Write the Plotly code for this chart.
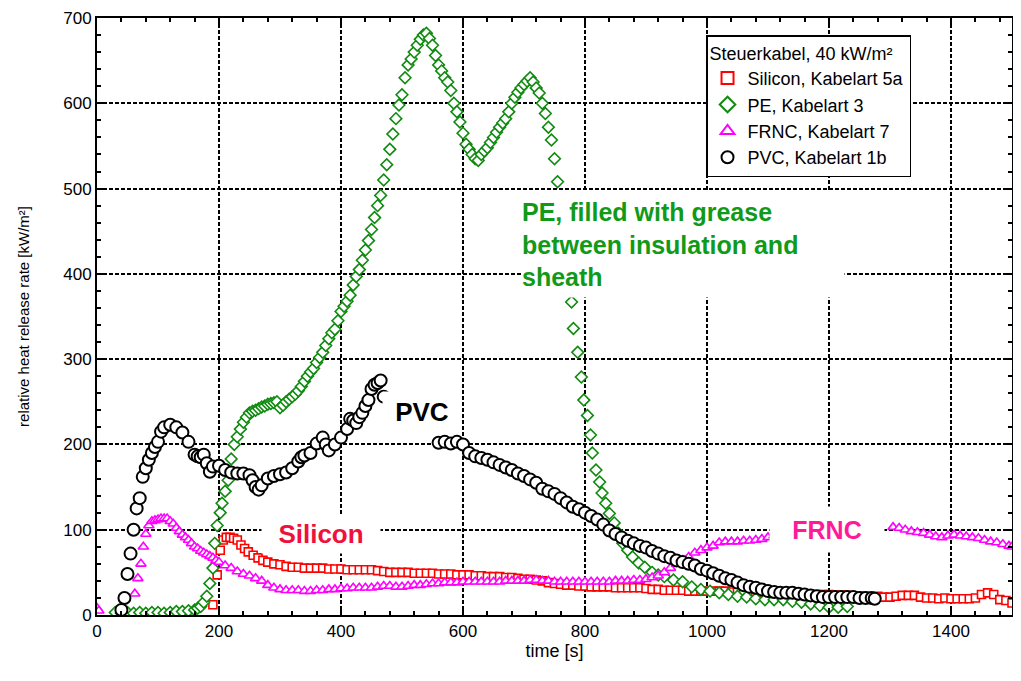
import plotly.graph_objects as go

# ---------------- data ----------------
sil_t = [190, 197, 202, 207, 212, 218, 224, 230, 236, 242, 248, 256, 264, 272, 280, 290, 300, 310, 320, 330,
         340, 350, 360, 370, 380, 390, 400, 410, 420, 430, 440, 450, 460, 470, 480, 490, 500, 510, 520, 530,
         540, 550, 560, 570, 580, 590, 600, 610, 620, 630, 640, 650, 660, 670, 680, 690, 700, 710, 720, 730,
         740, 750, 760, 770, 780, 790, 800, 810, 820, 830, 840, 850, 860, 870, 880, 890, 900, 910, 920, 930,
         940, 950, 960, 970, 980, 990, 1000, 1010, 1020, 1030, 1040, 1050, 1060, 1070, 1080, 1090, 1100, 1110,
         1120, 1130, 1140, 1150, 1160, 1170, 1180, 1190, 1200, 1210, 1220, 1230, 1240, 1250, 1260, 1270, 1280,
         1290, 1300, 1310, 1320, 1330, 1340, 1350, 1360, 1370, 1380, 1390, 1400, 1410, 1420, 1430, 1440, 1450,
         1460, 1470, 1480, 1490, 1500]
sil_v = [12, 47, 76, 88, 91, 91, 90, 88, 82, 78, 74, 70, 67, 64, 62, 60, 59, 57, 56, 56,
         55, 55, 55, 55, 54, 54, 54, 53, 53, 53, 53, 53, 52, 51, 50, 50, 50, 50, 49, 49,
         49, 49, 48, 48, 48, 47, 47, 47, 46, 46, 45, 45, 45, 44, 44, 43, 42, 42, 41, 40,
         38, 37, 36, 35, 35, 34, 34, 33, 33, 33, 33, 32, 32, 32, 32, 32, 31, 30, 30, 29,
         29, 29, 29, 28, 28, 28, 28, 28, 28, 28, 27, 27, 27, 27, 26, 26, 26, 26,
         25, 25, 25, 25, 25, 24, 24, 24, 24, 23, 23, 23, 22, 22, 22, 21, 22,
         21, 21, 22, 23, 23, 23, 21, 20, 20, 19, 20, 19, 19, 19, 19, 20, 24,
         26, 24, 18, 17, 14]

pe_t = [30, 40, 50, 60, 70, 80, 90, 100, 110, 120, 130, 140, 150, 160, 165, 170, 175, 180, 185, 190,
        193, 197, 202, 205, 210, 215, 220, 225, 230, 235, 240, 245, 250, 255, 260, 265, 270, 275, 280, 285,
        290, 295, 300, 305, 310, 315, 320, 325, 330, 335, 340, 345, 350, 355, 360, 365, 370, 375, 380, 385,
        390, 395, 400, 405, 410, 415, 420, 425, 430, 435, 440, 445, 450, 455, 460, 465, 470, 475, 480, 485,
        490, 495, 500, 505, 510, 515, 520, 525, 530, 535, 540, 545, 550, 555, 560, 565, 570, 575, 580, 585,
        590, 595, 600, 605, 610, 615, 620, 625, 630, 635, 640, 645, 650, 655, 660, 665, 670, 675, 680, 685,
        690, 695, 700, 705, 710, 715, 720, 725, 730, 735, 740, 745, 750, 755,
        778, 781, 788, 794, 798, 804, 809, 812, 818, 824, 828, 834, 840, 848, 855, 862, 870, 878, 888, 898,
        910, 920, 930, 945, 960, 975, 990, 1005, 1020, 1035, 1050, 1065, 1080, 1095, 1110, 1125, 1140, 1155,
        1170, 1185, 1200, 1215, 1230]
pe_v = [3, 2, 3, 2, 3, 2, 3, 3, 2, 3, 4, 4, 5, 6, 8, 10, 15, 22, 37, 55,
        84, 105, 120, 131, 145, 158, 183, 200, 209, 218, 226, 232, 237, 239, 240, 242, 244, 245, 247, 248,
        249, 250, 243, 246, 250, 253, 256, 259, 263, 268, 274, 280, 285, 289, 296, 302, 308, 316, 324, 331,
        335, 345, 356, 362, 368, 375, 387, 397, 405, 416, 428, 439, 452, 466, 480, 492, 510, 528, 546, 564,
        582, 598, 610, 630, 645, 652, 660, 668, 675, 680, 682, 676, 668, 656, 645, 638, 630, 625, 615, 600,
        590, 578, 565, 552, 546, 540, 535, 533, 540, 544, 548, 554, 560, 566, 572, 577, 582, 590, 600, 607,
        613, 618, 622, 626, 630, 625, 618, 612, 600, 588, 572, 557, 535, 508,
        367, 336, 308, 279, 252, 234, 211, 190, 170, 156, 143, 131, 119, 108, 96, 84, 76, 68, 61, 56,
        50, 47, 45, 41, 39, 33, 30, 28, 26, 24, 22, 21, 19, 18, 18, 18, 16, 15,
        13, 11, 9, 9, 10]

frnc_t = [0, 3, 62, 67, 72, 76, 80, 85, 90, 95, 100, 105, 110, 115, 120, 125, 130, 135, 140, 145,
          150, 155, 160, 165, 170, 175, 180, 185, 190, 195, 200, 210, 220, 230, 240, 250, 260, 270, 280, 290,
          300, 310, 320, 330, 340, 350, 360, 370, 380, 390, 400, 410, 420, 430, 440, 450, 460, 470, 480, 490,
          500, 510, 520, 530, 540, 550, 560, 570, 580, 590, 600, 610, 620, 630, 640, 650, 660, 670, 680, 690,
          700, 710, 720, 730, 740, 750, 760, 770, 780, 790, 800, 810, 820, 830, 840, 850, 860, 870, 880, 890,
          900, 910, 920, 930, 940, 950, 960, 970, 980, 990, 1000, 1010, 1020, 1030, 1040, 1050, 1060, 1070,
          1080, 1090, 1100, 1110, 1115,
          1305, 1315, 1325, 1335, 1345, 1355, 1365, 1375, 1385, 1395, 1405, 1415, 1425, 1435, 1445, 1455,
          1465, 1475, 1485, 1495, 1500]
frnc_v = [8, 5, 25, 43, 60, 80, 95, 105, 110, 111, 112, 113, 113, 113, 110, 107, 102, 98, 94, 91,
          88, 84, 80, 78, 75, 73, 71, 69, 67, 64, 62, 58, 55, 51, 48, 46, 43, 40, 35, 32,
          30, 29, 29, 29, 28, 28, 29, 29, 30, 30, 31, 31, 32, 32, 32, 32, 33, 34, 34, 33,
          33, 34, 35, 35, 36, 37, 37, 38, 38, 38, 39, 39, 39, 39, 39, 39, 39, 40, 40, 40,
          40, 41, 41, 40, 40, 39, 39, 39, 39, 39, 39, 39, 39, 39, 39, 40, 40, 40, 41, 41,
          42, 44, 46, 50, 55, 60, 64, 68, 73, 76, 79, 81, 85, 86, 86, 86, 87, 87,
          88, 89, 91, 93, 94,
          103, 102, 100, 98, 97, 96, 94, 92, 91, 93, 94, 93, 92, 91, 90, 88,
          86, 85, 83, 81, 80]

pvc_t = [40, 45, 50, 55, 60, 65, 70, 75, 80, 85, 90, 95, 100, 105, 110, 120, 130, 140, 150, 160,
         165, 170, 175, 180, 185, 190, 200, 210, 220, 230, 240, 250, 255, 260, 265, 270, 280, 290, 300, 310,
         320, 330, 335, 340, 350, 360, 370, 375, 380, 390, 400, 410, 415, 420, 425, 430, 435, 440, 445, 450,
         455, 460, 465, 470,
         560, 570, 580, 590, 600, 610, 620, 630, 640, 650, 660, 670, 680, 690, 700, 710, 720, 730, 740, 750,
         760, 770, 780, 790, 800, 810, 820, 830, 840, 850, 860, 870, 880, 890, 900, 910, 920, 930, 940, 950,
         960, 970, 980, 990, 1000, 1010, 1020, 1030, 1040, 1050, 1060, 1070, 1080, 1090, 1100, 1110, 1120,
         1130, 1140, 1150, 1160, 1170, 1180, 1190, 1200, 1210, 1220, 1230, 1240, 1250, 1260, 1270, 1275]
pvc_v = [6, 20, 48, 72, 100, 125, 137, 162, 172, 182, 190, 197, 203, 215, 220, 223, 220, 214, 203, 188,
         186, 185, 188, 178, 168, 174, 175, 170, 167, 166, 166, 164, 158, 150, 147, 152, 160, 163, 165, 167,
         172, 180, 185, 187, 190, 201, 208, 200, 193, 200, 208, 218, 230, 228, 225, 232, 237, 245, 252, 265,
         270, 272, 275, 256,
         202, 203, 201, 203, 200, 190, 186, 184, 182, 179, 176, 173, 170, 166, 163, 159, 155, 148, 145, 142,
         137, 132, 127, 124, 120, 116, 112, 106, 99, 95, 91, 87, 84, 81, 79, 75, 72, 69, 67, 64,
         62, 60, 58, 54, 52, 49, 46, 43, 41, 38, 35, 33, 32, 30, 28, 27, 26,
         26, 26, 25, 24, 23, 22, 21, 21, 21, 21, 21, 21, 20, 20, 20, 19, 19]

series_names = ["Silicon, Kabelart 5a", "PE, Kabelart 3", "FRNC, Kabelart 7", "PVC, Kabelart 1b"]
x_ticks = [0, 200, 400, 600, 800, 1000, 1200, 1400]
y_ticks = [0, 100, 200, 300, 400, 500, 600, 700]

# ---------------- figure ----------------
FONT = "Liberation Sans, Arial, sans-serif"
fig = go.Figure()

styles = [
    (sil_t, sil_v, "square", "#ff0000", 8),
    (pe_t, pe_v, "diamond", "#108a10", 9),
    (frnc_t, frnc_v, "triangle-up", "#ff00ff", 9),
    (pvc_t, pvc_v, "circle", "#000000", 12),
]
for (t, v, sym, col, sz), name in zip(styles, series_names):
    fig.add_trace(go.Scatter(
        x=t, y=v, mode="markers", name=name,
        marker=dict(symbol=sym, size=sz, color="white",
                    line=dict(color=col, width=2 if sym == "circle" else 1.6)),
    ))

def label(text, x, y, w, h, color, size=24, align="center"):
    fig.add_annotation(x=x, y=y, xref="x", yref="y", text=text, showarrow=False,
                       width=w, height=h, align=align, valign="middle",
                       bgcolor="white", borderpad=0,
                       font=dict(family=FONT, size=size, color=color))

label("<b>PE, filled with grease<br>between insulation and<br>sheath</b>", 960, 435, 322, 105,
      "#109a18", size=25, align="left")
label("<b>PVC</b>", 533, 238, 78, 40, "#000000", size=26)
label("<b>Silicon</b>", 367, 95, 118, 38, "#f0103c", size=26)
label("<b>FRNC</b>", 1197, 100, 114, 45, "#ff1a9a", size=25)

axis_common = dict(
    showline=True, linecolor="black", linewidth=2, mirror="ticks",
    ticks="inside", ticklen=7, tickwidth=1.5, tickcolor="black",
    showgrid=True, gridcolor="black", gridwidth=1.8, griddash="4px,2px",
    zeroline=False, automargin=False,
    tickfont=dict(family=FONT, size=17, color="black"),
)
fig.update_xaxes(range=[0, 1500], tickvals=x_ticks,
                 minor=dict(dtick=40, tick0=0, ticks="inside", ticklen=4, tickcolor="black", showgrid=False),
                 title=dict(text="time [s]", font=dict(family=FONT, size=18, color="black"), standoff=0),
                 **axis_common)
fig.update_yaxes(range=[0, 700], tickvals=y_ticks,
                 minor=dict(dtick=20, tick0=0, ticks="inside", ticklen=4, tickcolor="black", showgrid=False),
                 title=dict(text="relative heat release rate [kW/m²]",
                            font=dict(family=FONT, size=15, color="black"), standoff=30),
                 **axis_common)

# page body has an 8px margin, so the figure is sized/margined to land on the reference pixels
fig.update_layout(
    width=1005, height=665,
    margin=dict(l=89, r=1, t=10, b=58),
    paper_bgcolor="white", plot_bgcolor="white",
    font=dict(family=FONT, color="black"),
    legend=dict(
        title=dict(text="Steuerkabel, 40 kW/m²", font=dict(family=FONT, size=18, color="black")),
        font=dict(family=FONT, size=18, color="black"),
        x=0.6656, y=0.9715, xanchor="left", yanchor="top",
        bgcolor="white", bordercolor="black", borderwidth=1.5,
        tracegroupgap=0, itemsizing="constant",
    ),
    showlegend=True,
)

fig.write_html("out.html")
